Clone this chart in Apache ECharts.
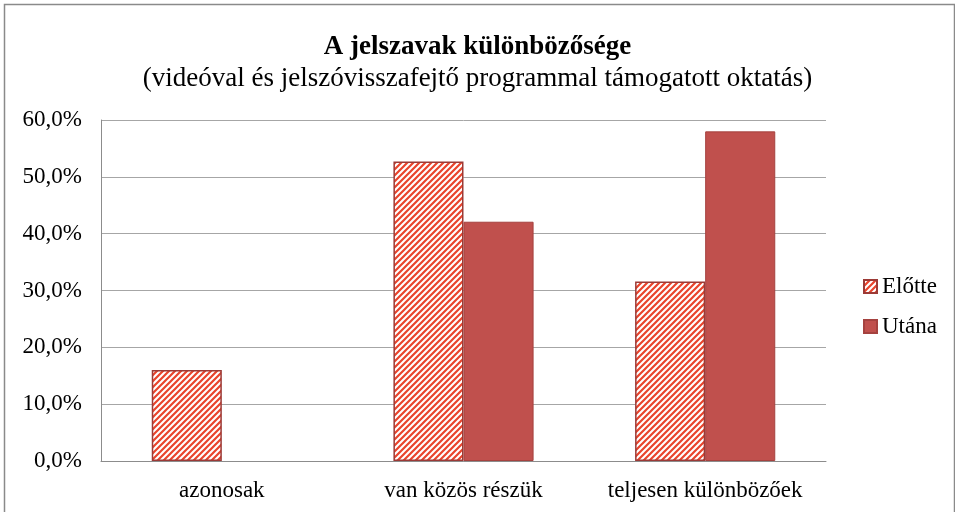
<!DOCTYPE html>
<html lang="hu">
<head>
<meta charset="UTF-8">
<title>A jelszavak különbözősége</title>
<style>
  html, body { margin: 0; padding: 0; background: #fff; }
  #chart { width: 955px; height: 512px; }
</style>
</head>
<body>
<div id="chart"></div>
<script src="https://cdn.jsdelivr.net/npm/echarts@6/dist/echarts.min.js"></script>
<script>
var categories = ['azonosak', 'van közös részük', 'teljesen különbözőek'];
var elotte = [16.0, 52.7, 31.6];
var utana = [0, 42.1, 58.0];
var yTicks = [0, 10, 20, 30, 40, 50, 60];

// diagonal stripe pattern for "Előtte"
function stripes() {
  var c = document.createElement('canvas');
  c.width = 6; c.height = 6;
  var g = c.getContext('2d');
  g.fillStyle = '#fff';
  g.fillRect(0, 0, 6, 6);
  g.strokeStyle = '#e9442c';
  g.lineWidth = 2.2;
  g.beginPath();
  g.moveTo(-1, 7); g.lineTo(7, -1);
  g.moveTo(-4, 4); g.lineTo(4, -4);
  g.moveTo(2, 10); g.lineTo(10, 2);
  g.stroke();
  return c;
}

// zero-height bars get no outline
function bars(arr) {
  return arr.map(function (v) {
    return v === 0 ? { value: v, itemStyle: { borderWidth: 0 } } : v;
  });
}

var font = '"Liberation Serif", "Times New Roman", serif';
var chart = echarts.init(document.getElementById('chart'));
chart.setOption({
  animation: false,
  textStyle: { fontFamily: font },
  graphic: [{
    type: 'rect', left: 2, top: 2,
    shape: { width: 950, height: 520 },
    style: { fill: 'none', stroke: '#8a8a8a', lineWidth: 1.5 }
  }],
  title: {
    text: 'A jelszavak különbözősége',
    subtext: '(videóval és jelszóvisszafejtő programmal támogatott oktatás)',
    left: 'center', top: 29, itemGap: 4,
    textStyle: { fontFamily: font, fontSize: 27, fontWeight: 'bold', color: '#000' },
    subtextStyle: { fontFamily: font, fontSize: 27, color: '#000' }
  },
  legend: {
    orient: 'vertical', left: 858, top: 270, itemGap: 17,
    itemWidth: 13, itemHeight: 13, icon: 'rect',
    textStyle: { fontFamily: font, fontSize: 23, color: '#000' },
    data: ['Előtte', 'Utána']
  },
  grid: { left: 101, right: 129, top: 120, bottom: 51 },
  xAxis: {
    type: 'category', data: categories,
    axisLine: { lineStyle: { color: '#8c8c8c' } },
    axisTick: { show: false },
    axisLabel: { color: '#000', fontSize: 23, fontFamily: font, margin: 18, interval: 0 }
  },
  yAxis: {
    type: 'value', min: 0, max: 60, interval: 10,
    axisLine: { show: true, lineStyle: { color: '#8c8c8c' } },
    axisTick: { show: false },
    splitLine: { lineStyle: { color: '#a6a6a6' } },
    axisLabel: {
      color: '#000', fontSize: 23, fontFamily: font, margin: 19,
      formatter: function (v) {
        return yTicks.indexOf(v) >= 0 ? v.toFixed(1).replace('.', ',') + '%' : '';
      }
    }
  },
  series: [{
    name: 'Előtte', type: 'bar', data: bars(elotte),
    barGap: '0%', barCategoryGap: '42%',
    itemStyle: { color: { image: stripes(), repeat: 'repeat' }, borderColor: '#9c3a36', borderWidth: 1.5 }
  }, {
    name: 'Utána', type: 'bar', data: bars(utana),
    itemStyle: { color: '#c0504d', borderColor: '#a5423f', borderWidth: 1 }
  }]
});
</script>
</body>
</html>
